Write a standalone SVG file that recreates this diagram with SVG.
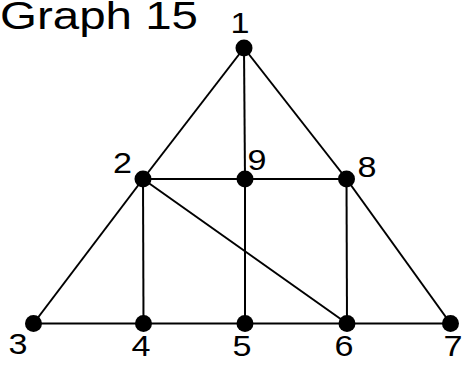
<svg xmlns="http://www.w3.org/2000/svg" width="462" height="365" viewBox="0 0 462 365">
<style>
.e{stroke:#000;stroke-width:2;fill:none}
.n{fill:#000}
.t{font-family:"Liberation Sans",Arial,sans-serif;font-size:29px;fill:#000;text-anchor:middle}
.title{font-family:"Liberation Sans",Arial,sans-serif;font-size:38px;fill:#000}
</style>
<rect width="462" height="365" fill="#fff"/>
<text class="title" x="0" y="29" textLength="198" lengthAdjust="spacingAndGlyphs">Graph 15</text>
<g id="edges">
<line class="e" x1="244" y1="48" x2="143" y2="179"/>
<line class="e" x1="244" y1="48" x2="245" y2="179"/>
<line class="e" x1="244" y1="48" x2="346.5" y2="179"/>
<line class="e" x1="143" y1="179" x2="346.5" y2="179"/>
<line class="e" x1="143" y1="179" x2="33.5" y2="323.5"/>
<line class="e" x1="143" y1="179" x2="143.5" y2="323.5"/>
<line class="e" x1="143" y1="179" x2="347" y2="323.5"/>
<line class="e" x1="245" y1="179" x2="245" y2="323.5"/>
<line class="e" x1="346.5" y1="179" x2="347" y2="323.5"/>
<line class="e" x1="346.5" y1="179" x2="450.5" y2="323.5"/>
<line class="e" x1="33.5" y1="323.5" x2="450.5" y2="323.5"/>
</g>
<g id="node1"><circle class="n" cx="244" cy="48" r="8.5"/><text class="t" x="240" y="33" textLength="19" lengthAdjust="spacingAndGlyphs">1</text></g>
<g id="node2"><circle class="n" cx="143" cy="179" r="8.5"/><text class="t" x="122.5" y="173" textLength="19" lengthAdjust="spacingAndGlyphs">2</text></g>
<g id="node9"><circle class="n" cx="245" cy="179" r="8.5"/><text class="t" x="257" y="170" textLength="19" lengthAdjust="spacingAndGlyphs">9</text></g>
<g id="node8"><circle class="n" cx="346.5" cy="179" r="8.5"/><text class="t" x="367" y="177" textLength="19" lengthAdjust="spacingAndGlyphs">8</text></g>
<g id="node3"><circle class="n" cx="33.5" cy="323.5" r="8.5"/><text class="t" x="18" y="354" textLength="19" lengthAdjust="spacingAndGlyphs">3</text></g>
<g id="node4"><circle class="n" cx="143.5" cy="323.5" r="8.5"/><text class="t" x="141" y="356" textLength="19" lengthAdjust="spacingAndGlyphs">4</text></g>
<g id="node5"><circle class="n" cx="245" cy="323.5" r="8.5"/><text class="t" x="242" y="356" textLength="19" lengthAdjust="spacingAndGlyphs">5</text></g>
<g id="node6"><circle class="n" cx="347" cy="323.5" r="8.5"/><text class="t" x="344" y="356" textLength="19" lengthAdjust="spacingAndGlyphs">6</text></g>
<g id="node7"><circle class="n" cx="450.5" cy="323.5" r="8.5"/><text class="t" x="453" y="356" textLength="19" lengthAdjust="spacingAndGlyphs">7</text></g>
</svg>
